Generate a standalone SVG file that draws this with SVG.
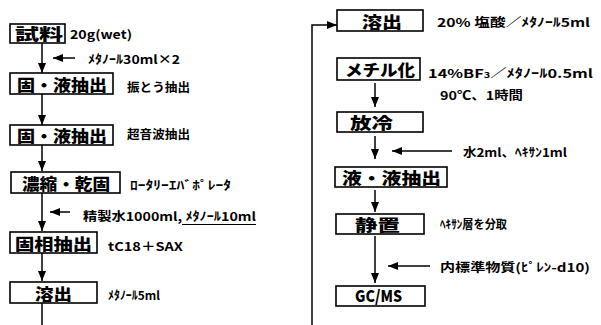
<svg xmlns="http://www.w3.org/2000/svg" width="601" height="325" viewBox="0 0 601 325">
<style>
.box{fill:#fff;stroke:#000;stroke-width:1.6}
.bl{font-family:"Noto Sans CJK JP","Noto Sans",sans-serif;font-weight:900;font-size:16px;fill:#000}
.sl{font-family:"Noto Sans CJK JP","Noto Sans",sans-serif;font-weight:700;font-size:12px;fill:#000}
.ln{fill:none;stroke:#000;stroke-width:1.5}
</style>
<defs>
<marker id="ah" markerUnits="userSpaceOnUse" markerWidth="10" markerHeight="10" viewBox="0 0 10 10" refX="10" refY="5" orient="auto">
<path d="M0,1 L10,5 L0,9 Z" fill="#000"/>
</marker>
</defs>
<rect width="601" height="325" fill="#fff"/>
<g id="connectors">
<line class="ln" x1="42" y1="43" x2="42" y2="73" marker-end="url(#ah)"/>
<line class="ln" x1="42" y1="94" x2="42" y2="125" marker-end="url(#ah)"/>
<line class="ln" x1="42" y1="145" x2="42" y2="171" marker-end="url(#ah)"/>
<line class="ln" x1="42" y1="193" x2="42" y2="231" marker-end="url(#ah)"/>
<line class="ln" x1="42" y1="253" x2="42" y2="281" marker-end="url(#ah)"/>
<line class="ln" x1="42" y1="303" x2="42" y2="325"/>
<line class="ln" x1="75" y1="58" x2="53" y2="58" marker-end="url(#ah)"/>
<line class="ln" x1="70" y1="212" x2="50" y2="212" marker-end="url(#ah)"/>
<polyline class="ln" points="312,325 312,25 337,25" marker-end="url(#ah)"/>
<line class="ln" x1="375" y1="83" x2="375" y2="107" marker-end="url(#ah)"/>
<line class="ln" x1="375" y1="136" x2="375" y2="159" marker-end="url(#ah)"/>
<line class="ln" x1="375" y1="190" x2="375" y2="212" marker-end="url(#ah)"/>
<line class="ln" x1="375" y1="236" x2="375" y2="283" marker-end="url(#ah)"/>
<line class="ln" x1="452" y1="151" x2="392" y2="151" marker-end="url(#ah)"/>
<line class="ln" x1="430" y1="266" x2="388" y2="266" marker-end="url(#ah)"/>
</g>
<g id="n1"><rect class="box" x="10" y="24" width="55" height="19"/><text class="bl" x="15" y="40" textLength="48" lengthAdjust="spacingAndGlyphs">試料</text>
<text class="sl" x="70" y="39" font-size="13" textLength="62" lengthAdjust="spacingAndGlyphs">20g(wet)</text></g>
<g id="a1"><text class="sl" x="88" y="64" font-size="11" textLength="92" lengthAdjust="spacingAndGlyphs">ﾒﾀﾉｰﾙ30ml×2</text></g>
<g id="n2"><rect class="box" x="10" y="73" width="103" height="21"/><text class="bl" x="17" y="91" textLength="90" lengthAdjust="spacingAndGlyphs">固・液抽出</text>
<text class="sl" x="127" y="92" textLength="63" lengthAdjust="spacingAndGlyphs">振とう抽出</text></g>
<g id="n3"><rect class="box" x="10" y="125" width="103" height="20"/><text class="bl" x="17" y="142" textLength="90" lengthAdjust="spacingAndGlyphs">固・液抽出</text>
<text class="sl" x="127" y="139" textLength="63" lengthAdjust="spacingAndGlyphs">超音波抽出</text></g>
<g id="n4"><rect class="box" x="11" y="172" width="109" height="21"/><text class="bl" x="22" y="190" textLength="88" lengthAdjust="spacingAndGlyphs">濃縮・乾固</text>
<text class="sl" x="130" y="190" font-size="11" textLength="101" lengthAdjust="spacingAndGlyphs">ﾛｰﾀﾘｰｴﾊﾞﾎﾟﾚｰﾀ</text></g>
<g id="a2"><text class="sl" x="83" y="221" textLength="173" lengthAdjust="spacingAndGlyphs">精製水1000ml, ﾒﾀﾉｰﾙ10ml</text>
<line x1="182" y1="224.5" x2="256" y2="224.5" stroke="#000" stroke-width="1"/></g>
<g id="n5"><rect class="box" x="10" y="232" width="87" height="21"/><text class="bl" x="15" y="250" textLength="77" lengthAdjust="spacingAndGlyphs">固相抽出</text>
<text class="sl" x="108" y="251" font-size="14" textLength="75" lengthAdjust="spacingAndGlyphs">tC18＋SAX</text></g>
<g id="n6"><rect class="box" x="10" y="282" width="87" height="21"/><text class="bl" x="35" y="300" textLength="37" lengthAdjust="spacingAndGlyphs">溶出</text>
<text class="sl" x="108" y="300" textLength="52" lengthAdjust="spacingAndGlyphs">ﾒﾀﾉｰﾙ5ml</text></g>
<g id="n7"><rect class="box" x="337" y="10" width="86" height="21"/><text class="bl" x="362" y="28" textLength="40" lengthAdjust="spacingAndGlyphs">溶出</text>
<text class="sl" x="437" y="27" font-size="13" textLength="153" lengthAdjust="spacingAndGlyphs">20% 塩酸／ﾒﾀﾉｰﾙ5ml</text></g>
<g id="n8"><rect class="box" x="337" y="58" width="83" height="22"/><text class="bl" x="345" y="76" textLength="70" lengthAdjust="spacingAndGlyphs">メチル化</text>
<text class="sl" x="428" y="78" font-size="13" textLength="165" lengthAdjust="spacingAndGlyphs">14%BF<tspan font-size="8">3</tspan>／ﾒﾀﾉｰﾙ0.5ml</text>
<text class="sl" x="440" y="100" font-size="13" textLength="83" lengthAdjust="spacingAndGlyphs">90℃、1時間</text></g>
<g id="n9"><rect class="box" x="337" y="112" width="86" height="20"/><text class="bl" x="350" y="129" textLength="43" lengthAdjust="spacingAndGlyphs">放冷</text></g>
<g id="a3"><text class="sl" x="463" y="157" textLength="104" lengthAdjust="spacingAndGlyphs">水2ml、ﾍｷｻﾝ1ml</text></g>
<g id="n10"><rect class="box" x="335" y="167" width="112" height="20"/><text class="bl" x="342" y="184" textLength="99" lengthAdjust="spacingAndGlyphs">液・液抽出</text></g>
<g id="n11"><rect class="box" x="336" y="214" width="88" height="20"/><text class="bl" x="355" y="231" textLength="45" lengthAdjust="spacingAndGlyphs">静置</text>
<text class="sl" x="440" y="229" textLength="67" lengthAdjust="spacingAndGlyphs">ﾍｷｻﾝ層を分取</text></g>
<g id="a4"><text class="sl" x="440" y="272" font-size="13" textLength="150" lengthAdjust="spacingAndGlyphs">内標準物質(ﾋﾟﾚﾝ-d10)</text></g>
<g id="n12"><rect class="box" x="336" y="286" width="89" height="20"/><text class="bl" x="355" y="302" font-size="14" textLength="47" lengthAdjust="spacingAndGlyphs">GC/MS</text></g>
</svg>
